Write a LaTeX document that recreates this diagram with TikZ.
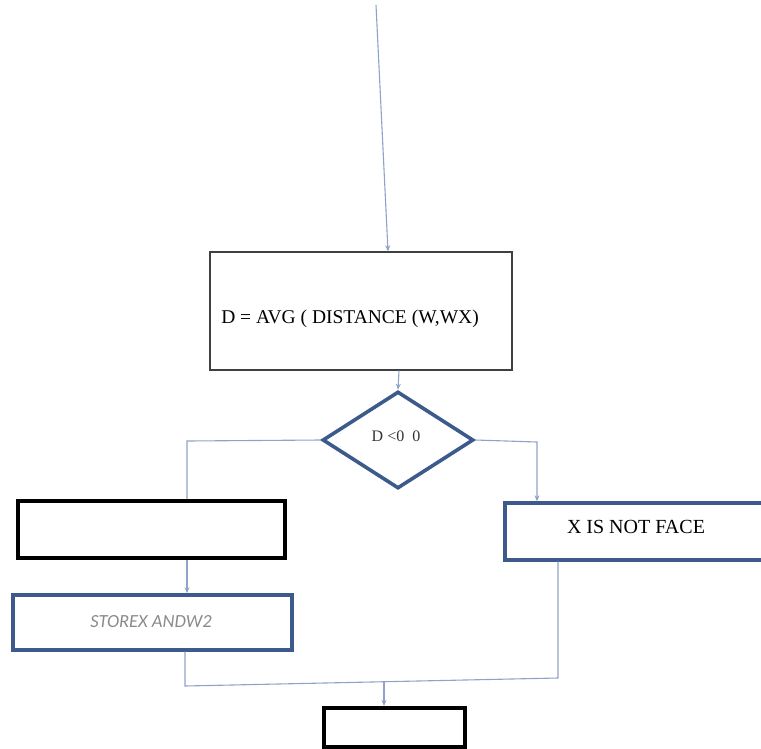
\documentclass[tikz,border=0pt]{standalone}
\usepackage{fontspec}
\setmainfont{Liberation Serif}
\newfontfamily\calfont{Carlito}
\usetikzlibrary{shapes.geometric,arrows.meta,calc}
\definecolor{conn}{HTML}{8FA3C6}
\definecolor{navy}{HTML}{3C5A8C}
\definecolor{txtgray}{HTML}{8A8A8A}
\tikzset{
  conline/.style={draw=conn, line width=1.1pt},
  conarrow/.style={conline, -{Stealth[length=6pt,width=5pt]}},
  mainbox/.style={draw=black!75, line width=1.3pt, rectangle, inner sep=0pt},
  navybox/.style={draw=navy, line width=3.4pt, rectangle, inner sep=0pt},
  blackbox/.style={draw=black, line width=4pt, rectangle, inner sep=0pt},
  decision/.style={draw=navy, line width=3.6pt, diamond, inner sep=0pt}
}
\begin{document}
\begin{tikzpicture}[x=1pt,y=-1pt]
\useasboundingbox (0,0) rectangle (761,748);
% nodes
\node[mainbox, minimum width=302pt, minimum height=118pt] (main) at (361,311) {};
\node[font=\fontsize{19.5}{22}\selectfont] (maintxt) at (350,319) {D = AVG ( DISTANCE (W,WX)};
\node[decision, minimum width=151pt, minimum height=97pt] (dia) at (398,440) {};
\node[font=\fontsize{16}{18}\selectfont, text=black!80] (diatxt) at (396,436) {D <0\ \ 0};
\node[blackbox, minimum width=267pt, minimum height=57pt] (box1) at (151.5,529.5) {};
\node[navybox, minimum width=279pt, minimum height=55pt] (storex) at (152.5,622.5) {};
\node[font=\calfont\itshape\fontsize{18.5}{21}\selectfont, text=txtgray] (storetxt) at (151,622) {STOREX ANDW2};
\node[navybox, minimum width=290pt, minimum height=57pt] (xbox) at (650,531.5) {};
\node[font=\fontsize{20}{22}\selectfont] (xtxt) at (636,527) {X IS NOT FACE};
\node[blackbox, minimum width=141pt, minimum height=39pt] (final) at (394.5,727.5) {};
% free ends
\coordinate (top) at (376,5);
\coordinate (jl) at (185,686);
\coordinate (jr) at (558,678);
\coordinate (jm) at (384,682);
% connectors
\draw[conarrow] (top) -- ($(main.north)+(27,0)$);
\draw[conarrow] ($(main.south)+(38,0)$) -- (dia.north);
\draw[conline] (dia.west) -- (187,441) -- ($(box1.north)+(35.5,0)$);
\draw[conarrow] (dia.east) -- (537,442) -- ($(xbox.north)+(-113,0)$);
\draw[conarrow] ($(box1.south)+(35.5,0)$) -- ($(storex.north)+(34.5,0)$);
\draw[conline] (storex.south -| jl) -- (jl) -- (jr) -- (xbox.south -| jr);
\draw[conarrow] (jm) -- (final.north -| jm);
\end{tikzpicture}
\end{document}
